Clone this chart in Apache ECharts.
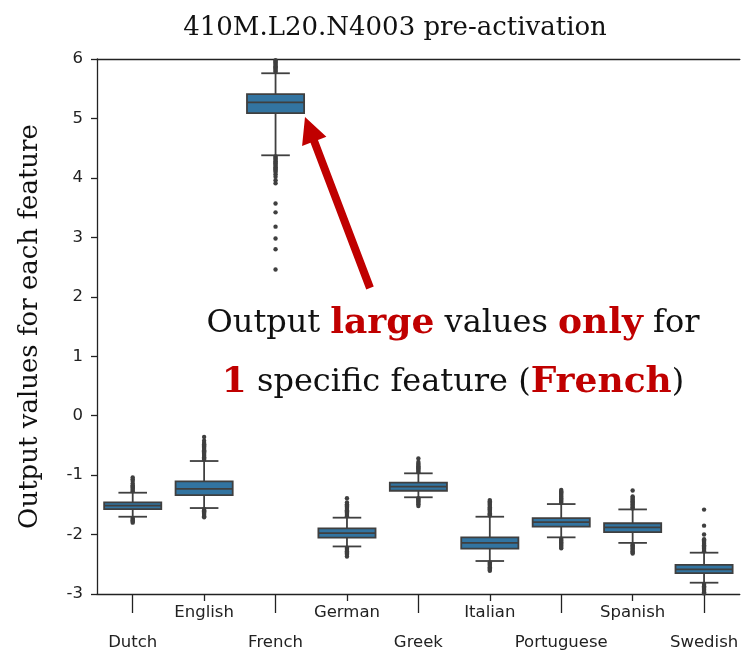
<!DOCTYPE html>
<html>
<head>
<meta charset="utf-8">
<script src="https://cdn.jsdelivr.net/npm/echarts@6/dist/echarts.min.js"></script>
<style>html,body{margin:0;padding:0;background:#fff;}#c{width:741px;height:651px;}</style>
</head>
<body>
<div id="c"></div>
<script>
const categories = ['Dutch','English','French','German','Greek','Italian','Portuguese','Spanish','Swedish'];
// [lower whisker, Q1, median, Q3, upper whisker]
const boxStats = [
  [-1.70, -1.571, -1.514, -1.458, -1.296],
  [-1.554, -1.335, -1.23, -1.105, -0.763],
  [4.38, 5.09, 5.27, 5.41, 5.76],
  [-2.20, -2.05, -1.975, -1.895, -1.716],
  [-1.373, -1.263, -1.195, -1.127, -0.97],
  [-2.445, -2.238, -2.14, -2.047, -1.70],
  [-2.047, -1.868, -1.79, -1.722, -1.487],
  [-2.14, -1.96, -1.88, -1.81, -1.577],
  [-2.81, -2.65, -2.585, -2.51, -2.305]
];
const outliersDutch = [-1.27,-1.25,-1.23,-1.21,-1.19,-1.17,-1.14,-1.10,-1.07,-1.04,-1.72,-1.74,-1.76,-1.78,-1.80];
const outliersEnglish = [-0.74,-0.72,-0.70,-0.68,-0.66,-0.64,-0.62,-0.60,-0.58,-0.56,-0.54,-0.52,-0.50,-0.48,-0.46,-0.42,-0.36,-1.57,-1.59,-1.61,-1.63,-1.65,-1.67,-1.69,-1.71];
const outliersFrench = [5.78,5.80,5.82,5.84,5.86,5.88,5.90,5.92,5.94,5.96,5.98,4.36,4.34,4.32,4.30,4.28,4.26,4.24,4.22,4.20,4.18,4.16,4.14,4.12,4.10,4.06,4.02,3.96,3.91,3.57,3.42,3.18,2.98,2.80,2.46];
const outliersGerman = [-1.69,-1.67,-1.65,-1.63,-1.61,-1.59,-1.57,-1.55,-1.53,-1.51,-1.49,-1.46,-1.39,-2.22,-2.24,-2.26,-2.28,-2.30,-2.32,-2.34,-2.37];
const outliersGreek = [-0.95,-0.93,-0.91,-0.89,-0.87,-0.85,-0.83,-0.81,-0.78,-0.72,-1.39,-1.41,-1.43,-1.45,-1.47,-1.49,-1.52];
const outliersItalian = [-1.68,-1.66,-1.64,-1.62,-1.60,-1.58,-1.56,-1.54,-1.52,-1.50,-1.48,-1.46,-1.44,-1.42,-2.47,-2.49,-2.51,-2.53,-2.55,-2.57,-2.59,-2.61];
const outliersPortuguese = [-1.47,-1.45,-1.43,-1.41,-1.39,-1.37,-1.35,-1.33,-1.31,-1.29,-1.27,-1.25,-2.07,-2.09,-2.11,-2.13,-2.15,-2.17,-2.19,-2.21,-2.23];
const outliersSpanish = [-1.56,-1.54,-1.52,-1.50,-1.48,-1.46,-1.44,-1.42,-1.40,-1.38,-1.36,-1.26,-2.16,-2.18,-2.20,-2.22,-2.24,-2.26,-2.28,-2.30,-2.32];
const outliersSwedish = [-2.28,-2.26,-2.24,-2.22,-2.20,-2.18,-2.16,-2.14,-2.12,-2.10,-2.08,-2.00,-1.85,-1.58,-2.83,-2.85,-2.87,-2.89,-2.91,-2.93,-2.95,-2.97,-2.99];
const outlierLists = [outliersDutch,outliersEnglish,outliersFrench,outliersGerman,outliersGreek,outliersItalian,outliersPortuguese,outliersSpanish,outliersSwedish];
const yTicks = [-3,-2,-1,0,1,2,3,4,5,6];

const boxData = boxStats.map((s,i)=>[i].concat(s));
const outlierData = [];
outlierLists.forEach((arr,i)=>arr.forEach(v=>outlierData.push([i,v])));

const EDGE = '#3f3f3f';
const FILL = '#3274a1';
const TXT = '#222';

const chart = echarts.init(document.getElementById('c'), null, {renderer:'canvas'});

function arrowPoints(tail, tip, shaftW, headL, headW){
  const dx = tip[0]-tail[0], dy = tip[1]-tail[1];
  const L = Math.sqrt(dx*dx+dy*dy);
  const ux = dx/L, uy = dy/L, px = -uy, py = ux;
  const bx = tip[0]-ux*headL, by = tip[1]-uy*headL;
  return [
    [tail[0]+px*shaftW/2, tail[1]+py*shaftW/2],
    [bx+px*shaftW/2, by+py*shaftW/2],
    [bx+px*headW/2, by+py*headW/2],
    [tip[0], tip[1]],
    [bx-px*headW/2, by-py*headW/2],
    [bx-px*shaftW/2, by-py*shaftW/2],
    [tail[0]-px*shaftW/2, tail[1]-py*shaftW/2]
  ];
}

const option = {
  animation:false,
  backgroundColor:'#fff',
  grid:{left:97, top:59, width:646, bottom:57, show:false},
  xAxis:[
    {type:'category', data:categories, boundaryGap:true, position:'bottom',
     axisLine:{show:true, onZero:false, lineStyle:{color:TXT, width:1.3}},
     axisTick:{show:true, length:19, alignWithLabel:true, interval:(i)=>i%2===0, lineStyle:{color:TXT, width:1.3}},
     axisLabel:{interval:(i)=>i%2===0, margin:40, fontFamily:'DejaVu Sans', fontSize:16.5, color:TXT},
     splitLine:{show:false}},
    {type:'category', data:categories, boundaryGap:true, position:'bottom', gridIndex:0,
     axisLine:{show:false, onZero:false},
     axisTick:{show:true, length:7, alignWithLabel:true, interval:(i)=>i%2===1, lineStyle:{color:TXT, width:1.3}},
     axisLabel:{interval:(i)=>i%2===1, margin:10, fontFamily:'DejaVu Sans', fontSize:16.5, color:TXT},
     splitLine:{show:false}},
    {type:'category', data:categories, boundaryGap:true, position:'top', gridIndex:0,
     axisLine:{show:true, onZero:false, lineStyle:{color:TXT, width:1.4}},
     axisTick:{show:false}, axisLabel:{show:false}, splitLine:{show:false}}
  ],
  yAxis:{type:'value', min:yTicks[0], max:yTicks[yTicks.length-1], interval:1,
    name:'Output values for each feature', nameLocation:'middle', nameRotate:90, nameGap:54,
    nameTextStyle:{fontFamily:'DejaVu Serif', fontSize:26, color:'#111'},
    axisLine:{show:true, lineStyle:{color:TXT, width:1.3}},
    axisTick:{show:true, length:6, lineStyle:{color:TXT, width:1.3}},
    axisLabel:{margin:14, fontFamily:'DejaVu Sans', fontSize:16.5, color:TXT},
    splitLine:{show:false}},
  series:[
    {type:'scatter', xAxisIndex:0, data:outlierData, symbol:'circle', symbolSize:4.4,
     itemStyle:{color:EDGE, opacity:1}, z:3, silent:true},
    {type:'custom', xAxisIndex:0, data:boxData, encode:{x:0, y:[1,2,3,4,5]}, z:4,
     renderItem:function(params, api){
       const x = api.value(0);
       const lo = api.coord([x, api.value(1)]);
       const q1 = api.coord([x, api.value(2)]);
       const md = api.coord([x, api.value(3)]);
       const q3 = api.coord([x, api.value(4)]);
       const hi = api.coord([x, api.value(5)]);
       const bw = api.size([1,0])[0]*0.8;
       const cw = bw/2;
       const cx = lo[0];
       const ls = {stroke:EDGE, lineWidth:1.8};
       return {type:'group', children:[
         {type:'line', shape:{x1:cx,y1:q3[1],x2:cx,y2:hi[1]}, style:ls},
         {type:'line', shape:{x1:cx,y1:q1[1],x2:cx,y2:lo[1]}, style:ls},
         {type:'line', shape:{x1:cx-cw/2,y1:hi[1],x2:cx+cw/2,y2:hi[1]}, style:ls},
         {type:'line', shape:{x1:cx-cw/2,y1:lo[1],x2:cx+cw/2,y2:lo[1]}, style:ls},
         {type:'rect', shape:{x:cx-bw/2, y:q3[1], width:bw, height:q1[1]-q3[1]}, style:{fill:FILL, stroke:EDGE, lineWidth:1.8}},
         {type:'line', shape:{x1:cx-bw/2,y1:md[1],x2:cx+bw/2,y2:md[1]}, style:ls}
       ]};
     }}
  ],
  graphic:[
    {type:'text', x:395, y:28, z:10,
     style:{text:'410M.L20.N4003 pre-activation', fontFamily:'DejaVu Serif', fontSize:26, fill:'#111', textAlign:'center', textVerticalAlign:'middle'}},
    {type:'polygon', z:10, shape:{points:arrowPoints([370,288],[305,117],8,26,26)}, style:{fill:'#C00000'}},
    {type:'text', x:453, y:353, z:10,
     style:{text:'Output {r|large} values {r|only} for\n{r|1} specific feature ({r|French})',
       fontFamily:'DejaVu Serif', fontSize:32, fill:'#111', lineHeight:59, textAlign:'center', textVerticalAlign:'middle',
       rich:{r:{fill:'#C00000', fontWeight:'bold', fontFamily:'DejaVu Serif', fontSize:36, lineHeight:59}}}}
  ]
};
chart.setOption(option);
</script>
</body>
</html>
